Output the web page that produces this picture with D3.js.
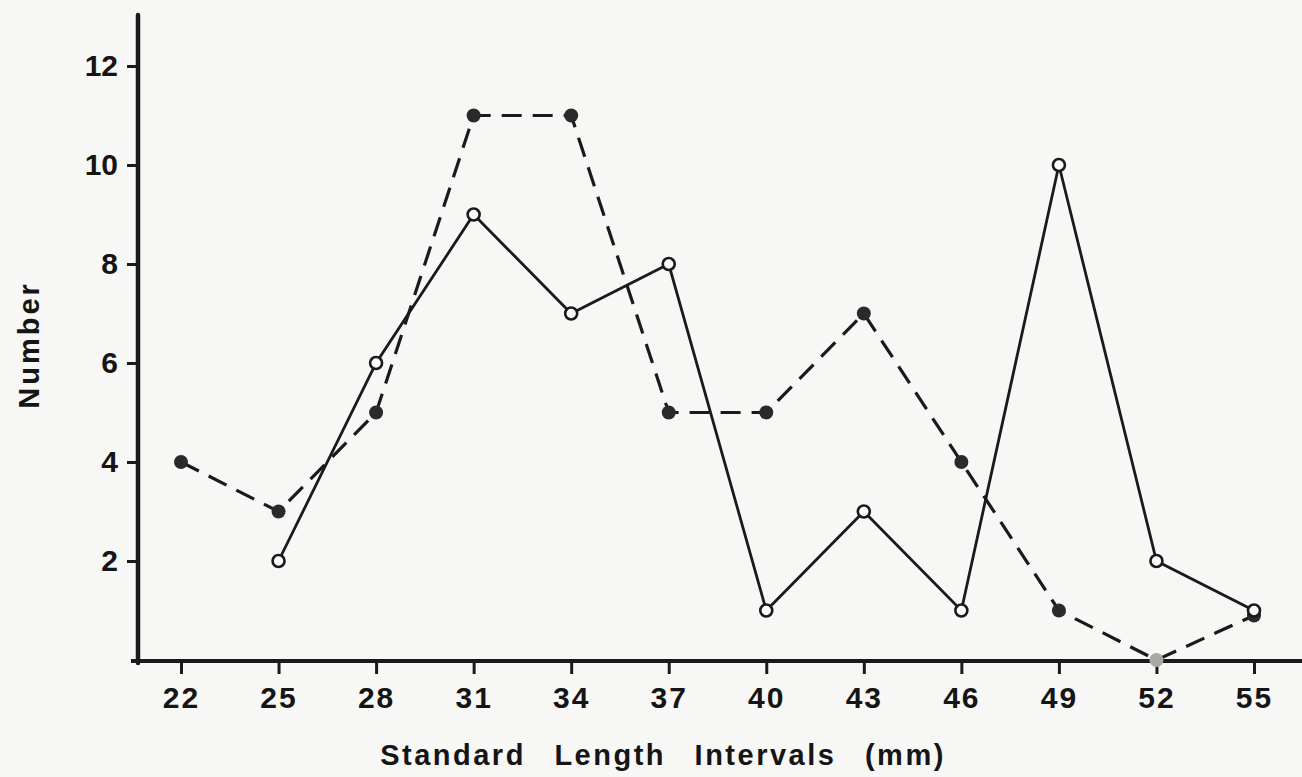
<!DOCTYPE html>
<html>
<head>
<meta charset="utf-8">
<script src="https://cdn.jsdelivr.net/npm/d3@7"></script>
<style>
  body { margin: 0; background: #f7f7f5; }
  text { font-family: "Liberation Sans", Arial, sans-serif; fill: #151515; }
</style>
</head>
<body>
<svg id="plot"></svg>
<script>
// data
const lengths = [22, 25, 28, 31, 34, 37, 40, 43, 46, 49, 52, 55];
const openSeries = [null, 2, 6, 9, 7, 8, 1, 3, 1, 10, 2, 1];     // solid line, open circles
const filledSeries = [4, 3, 5, 11, 11, 5, 5, 7, 4, 1, 0, 0.9];   // dashed line, filled circles
const yTicks = [2, 4, 6, 8, 10, 12];

let width = 1302, height = 777;

let svg = d3.select('#plot')
  .attr('width', width)
  .attr('height', height)
  .style('background', '#f7f7f5');

let xScale = d3.scaleLinear()
  .domain([22, 55])
  .range([181, 1254]);

let yScale = d3.scaleLinear()
  .domain([0, 12])
  .range([660, 66]);

// axes
let xAxis = svg.append('g')
  .attr('transform', `translate(0, 661)`)
  .call(d3.axisBottom(xScale).tickValues(lengths).tickSize(13).tickPadding(13).tickFormat(d3.format('d')));
xAxis.select('.domain').remove();
xAxis.append('line')
  .attr('x1', 131).attr('x2', 1302)
  .attr('stroke', '#1a1a1a').attr('stroke-width', 4);
xAxis.selectAll('.tick line').attr('stroke', '#1a1a1a').attr('stroke-width', 3);
xAxis.selectAll('.tick text')
  .style('font-size', '30px').style('font-weight', 'bold').style('letter-spacing', '2px');

let yAxis = svg.append('g')
  .attr('transform', `translate(138, 0)`)
  .call(d3.axisLeft(yScale).tickValues(yTicks).tickSize(11).tickPadding(9));
yAxis.select('.domain').remove();
yAxis.append('line')
  .attr('y1', 15).attr('y2', 663)
  .attr('stroke', '#1a1a1a').attr('stroke-width', 4.5).attr('stroke-linecap', 'round');
yAxis.selectAll('.tick line').attr('stroke', '#1a1a1a').attr('stroke-width', 3);
yAxis.selectAll('.tick text')
  .style('font-size', '30px').style('font-weight', 'bold');

// lines
let line = d3.line()
  .defined(d => d.v != null)
  .x(d => xScale(d.x))
  .y(d => yScale(d.v));

let filledData = lengths.map((x, i) => ({ x: x, v: filledSeries[i] }));
let openData = lengths.map((x, i) => ({ x: x, v: openSeries[i] })).filter(d => d.v != null);

svg.append('path')
  .datum(filledData)
  .attr('d', line)
  .attr('fill', 'none')
  .attr('stroke', '#1a1a1a')
  .attr('stroke-width', 3.2)
  .attr('stroke-dasharray', '20,11');

svg.append('path')
  .datum(openData)
  .attr('d', line)
  .attr('fill', 'none')
  .attr('stroke', '#1a1a1a')
  .attr('stroke-width', 2.8);

// markers
svg.selectAll('circle.filled')
  .data(filledData)
  .enter()
  .append('circle')
  .attr('class', 'filled')
  .attr('cx', d => xScale(d.x))
  .attr('cy', d => yScale(d.v))
  .attr('r', 7)
  .attr('fill', (d, i) => d.v === 0 ? '#a8a8a4' : '#2a2a2a');

svg.selectAll('circle.open')
  .data(openData)
  .enter()
  .append('circle')
  .attr('class', 'open')
  .attr('cx', d => xScale(d.x))
  .attr('cy', d => yScale(d.v))
  .attr('r', 6)
  .attr('fill', '#fbfbfa')
  .attr('stroke', '#1a1a1a')
  .attr('stroke-width', 2.6);

// axis titles
svg.append('text')
  .attr('x', 663)
  .attr('y', 765)
  .attr('text-anchor', 'middle')
  .style('font-size', '29px')
  .style('font-weight', 'bold')
  .style('letter-spacing', '2.5px')
  .style('word-spacing', '18px')
  .text('Standard Length Intervals (mm)');

svg.append('text')
  .attr('transform', 'translate(39, 345) rotate(-90)')
  .attr('text-anchor', 'middle')
  .style('font-size', '29px')
  .style('font-weight', 'bold')
  .style('letter-spacing', '3px')
  .text('Number');
</script>
</body>
</html>
